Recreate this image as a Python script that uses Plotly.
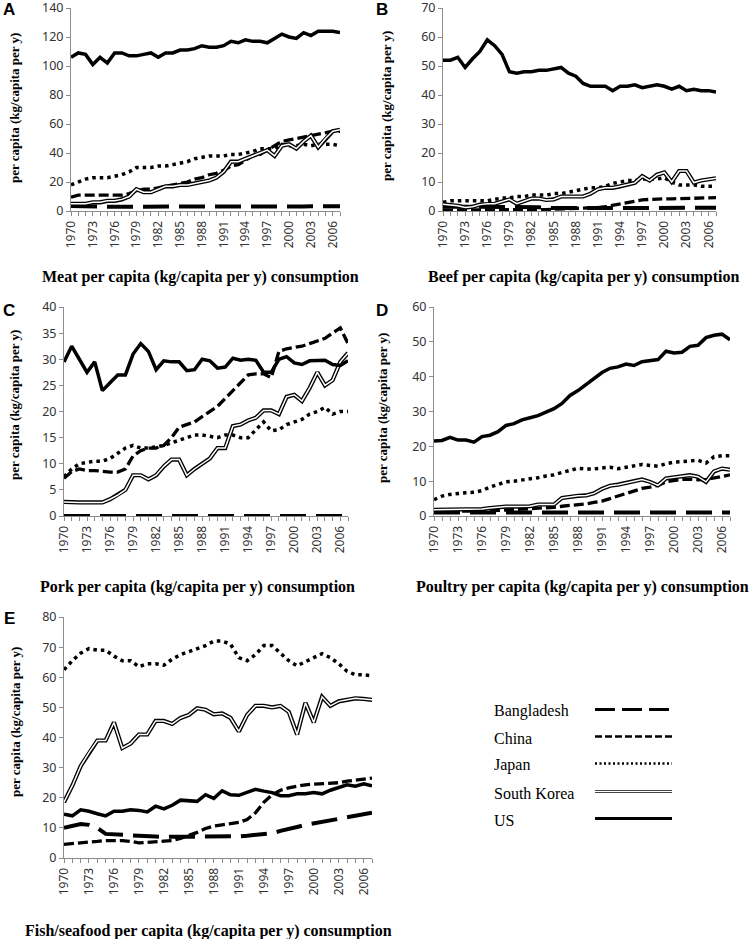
import plotly.graph_objects as go

years = list(range(1970, 2008))
tick_years = list(range(1970, 2007, 3))

# ---------------- Meat ----------------
meat_bangladesh = [3.5, 3.3, 3.2, 3.1, 3.0, 3.0, 3.0, 3.0, 3.1, 2.8, 2.6, 2.5, 2.5, 2.5, 2.5, 2.6, 2.6, 2.6, 2.6, 2.6, 2.6,
                   2.6, 2.7, 2.7, 2.7, 2.8, 2.8, 2.9, 3.0, 3.0, 3.0, 3.1, 3.1, 3.2, 3.2, 3.3, 3.3, 3.3]
meat_china = [9.5, 11, 11, 11, 11, 11, 11, 11, 12, 14, 15, 15, 16, 17, 18, 19, 20, 22, 23, 25, 26,
              28, 31, 32, 35, 38, 39, 42, 45, 48, 49, 50, 51, 52, 53, 54, 55, 55]
meat_japan = [18, 20, 22, 23, 23, 23, 24, 25, 27, 30, 30, 30, 31, 31, 32, 33, 34, 36, 37, 38, 38,
              38, 39, 39, 40, 41, 43, 43, 43, 46, 45, 45, 46, 45, 46, 46, 46, 45]
meat_korea = [5, 5, 5, 6, 6, 7, 7, 8, 10, 15, 13, 13, 15, 17, 17, 18, 18, 19, 20, 21, 23,
              27, 34, 34, 36, 38, 40, 42, 38, 45, 46, 43, 48, 52, 44, 50, 55, 56]
meat_us = [106, 109, 108, 101, 106, 102, 109, 109, 107, 107, 108, 109, 106, 109, 109, 111, 111, 112, 114, 113, 113,
           114, 117, 116, 118, 117, 117, 116, 119, 122, 120, 119, 123, 121, 124, 124, 124, 123]

# ---------------- Beef ----------------
beef_bangladesh = [1.5, 1.5, 1.5, 1.5, 1.5, 1.5, 1.5, 1.5, 1.5, 1.4, 1.4, 1.4, 1.4, 1.3, 1.0, 1.0, 1.0, 1.0, 1.0, 1.0, 1.0,
                   1.1, 1.1, 1.1, 1.1, 1.1, 1.1, 1.1, 1.1, 1.1, 1.1, 1.1, 1.1, 1.1, 1.1, 1.1, 1.1, 1.1]
beef_china = [0.3, 0.3, 0.3, 0.3, 0.3, 0.3, 0.3, 0.3, 0.3, 0.3, 0.3, 0.4, 0.4, 0.5, 0.5, 0.6, 0.7, 0.8, 0.9, 1.0, 1.0,
              1.2, 1.5, 2.0, 2.5, 3.0, 3.5, 3.8, 4.0, 4.2, 4.2, 4.2, 4.3, 4.4, 4.5, 4.5, 4.6, 4.6]
beef_japan = [3.0, 3.5, 3.5, 3.5, 3.5, 3.5, 3.5, 4.0, 4.5, 4.5, 5.0, 5.0, 5.5, 5.5, 5.5, 6.0, 6.0, 6.5, 7.0, 7.5, 8.0,
              8.0, 8.5, 9.5, 10.0, 10.5, 10.5, 11.0, 11.0, 11.0, 11.5, 10.0, 9.0, 9.0, 9.0, 8.5, 8.5, 8.5]
beef_korea = [2.3, 2.1, 1.8, 1.2, 1.5, 2.2, 2.5, 2.5, 3.3, 4.0, 2.5, 3.3, 4.3, 4.3, 3.8, 4.0, 5.0, 5.0, 5.0, 5.0, 6.0,
              7.5, 8.0, 8.0, 8.5, 9.0, 9.7, 12.0, 10.5, 12.5, 13.3, 10.0, 13.8, 13.8, 9.8, 10.5, 11.0, 11.3]
beef_us = [52, 52, 53, 49.5, 52.5, 55, 59, 57, 54, 48, 47.5, 48, 48, 48.5, 48.5, 49, 49.5, 47.5, 46.5, 44, 43,
           43, 43, 41.5, 43, 43, 43.5, 42.5, 43, 43.5, 43, 42, 43, 41.5, 42, 41.5, 41.5, 41]

# ---------------- Pork ----------------
pork_bangladesh = [0.0] * 38
pork_china = [7.2, 8.5, 9.0, 8.7, 8.7, 8.5, 8.4, 8.4, 9.0, 11.5, 12.5, 13.0, 13.0, 13.5, 15.0, 17.0, 17.5, 18.0, 19.0, 20.0, 21.0,
              22.5, 24.0, 25.5, 27.0, 27.2, 27.2, 26.5, 31.5, 32.0, 32.3, 32.5, 33.0, 33.5, 34.0, 35.0, 36.0, 33.0]
pork_japan = [7.5, 9.0, 10.0, 10.3, 10.5, 10.5, 11.0, 12.0, 13.0, 13.5, 13.0, 13.0, 13.2, 13.5, 14.0, 14.5, 15.0, 15.5, 15.5, 15.3, 15.0,
              15.5, 15.5, 15.0, 15.0, 16.5, 18.0, 16.3, 16.5, 17.5, 18.0, 18.5, 19.5, 20.0, 20.8, 19.5, 20.0, 20.0]
pork_korea = [2.7, 2.6, 2.6, 2.6, 2.6, 2.6, 3.2, 4.0, 5.0, 7.8, 7.8, 7.0, 7.8, 9.5, 10.8, 10.8, 7.8, 9.0, 10.0, 11.0, 13.0,
              13.0, 17.2, 17.5, 18.3, 18.8, 20.2, 20.2, 19.5, 22.8, 23.2, 22.0, 24.5, 27.5, 25.0, 26.0, 29.5, 31.2]
pork_us = [29.5, 32.5, 30.0, 27.5, 29.5, 24.0, 25.5, 27.0, 27.0, 31.0, 33.0, 31.5, 28.0, 29.7, 29.5, 29.5, 27.8, 28.0, 30.0, 29.7, 28.3,
           28.5, 30.2, 29.8, 30.0, 29.8, 27.5, 27.5, 30.0, 30.5, 29.3, 29.0, 29.7, 29.8, 29.8, 29.0, 28.8, 29.7]

# ---------------- Poultry ----------------
poultry_bangladesh = [1.0, 1.0, 1.0, 1.0, 1.0, 0.9, 0.9, 0.9, 0.9, 0.8, 0.8, 0.8, 0.8, 0.8, 0.8, 0.8, 0.8, 0.8, 0.8, 0.8, 0.8,
                      0.8, 0.8, 0.8, 0.9, 0.9, 0.9, 0.9, 0.9, 0.9, 0.9, 0.9, 0.9, 1.0, 1.0, 1.0, 1.0, 1.0]
poultry_china = [1.3, 1.3, 1.3, 1.3, 1.4, 1.4, 1.4, 1.5, 1.6, 1.7, 1.8, 1.9, 2.0, 2.2, 2.3, 2.5, 2.8, 3.0, 3.3, 3.5, 3.9,
                 4.3, 5.0, 5.7, 6.4, 7.2, 7.9, 8.3, 8.8, 9.8, 10.2, 10.5, 10.6, 10.4, 10.5, 11.0, 11.4, 11.8]
poultry_japan = [4.7, 5.7, 6.2, 6.5, 6.7, 6.8, 7.3, 8.3, 9.0, 9.8, 10.0, 10.3, 10.7, 11.0, 11.5, 11.8, 12.5, 13.2, 13.7, 13.5, 13.5,
                 13.8, 14.0, 13.6, 14.0, 14.5, 14.8, 14.5, 14.3, 15.0, 15.5, 15.6, 15.9, 16.0, 15.2, 17.0, 17.3, 17.3]
poultry_korea = [1.8, 1.8, 1.8, 1.8, 1.8, 1.8, 2.0, 2.3, 2.6, 2.7, 2.7, 2.7, 2.8, 3.3, 3.3, 3.3, 5.2, 5.6, 5.8, 5.9, 6.5,
                 7.8, 8.7, 9.0, 9.5, 9.9, 10.5, 9.8, 8.8, 10.8, 11.0, 11.4, 11.7, 11.3, 9.8, 12.8, 13.6, 13.3]
poultry_us = [21.5, 21.7, 22.6, 21.8, 21.8, 21.2, 22.8, 23.2, 24.2, 26.0, 26.5, 27.6, 28.2, 28.8, 29.8, 30.8, 32.3, 34.6, 36.0, 37.8, 39.6,
              41.2, 42.4, 42.8, 43.6, 43.2, 44.3, 44.6, 44.9, 47.3, 46.8, 47.0, 48.7, 49.0, 51.2, 51.9, 52.2, 50.6]

# ---------------- Fish/seafood ----------------
fish_bangladesh = [10.0, 10.5, 11.3, 11.0, 10.0, 8.0, 7.8, 7.7, 7.5, 7.3, 7.2, 7.1, 7.0, 7.0, 7.2, 7.2, 7.2, 7.2, 7.2, 7.2, 7.0,
                   7.2, 7.4, 7.7, 7.9, 8.2, 9.0, 9.8, 10.3, 11.0, 11.5, 12.0, 12.5, 13.0, 13.5, 14.0, 14.5, 15.0]
fish_china = [4.5, 4.8, 5.2, 5.3, 5.5, 5.8, 5.8, 5.8, 5.5, 5.0, 5.2, 5.5, 5.6, 5.8, 6.5, 7.5, 8.5, 9.8, 10.6, 11.0, 11.5,
              11.8, 12.8, 15.0, 18.5, 21.0, 22.5, 23.3, 23.8, 24.3, 24.5, 24.7, 24.8, 25.0, 25.5, 25.8, 26.2, 26.5]
fish_japan = [62.5, 65.5, 68.0, 69.5, 69.0, 69.0, 67.0, 65.5, 65.5, 63.5, 64.5, 64.5, 64.0, 66.0, 67.5, 68.5, 69.5, 70.5, 72.0, 72.0, 71.0,
              66.5, 65.5, 67.5, 70.5, 70.5, 68.0, 65.5, 63.8, 65.0, 66.5, 67.8, 66.5, 64.5, 62.0, 60.8, 60.8, 60.5]
fish_korea = [18.5, 24.0, 30.5, 35.0, 39.0, 39.0, 45.0, 36.5, 38.0, 41.0, 41.0, 45.5, 45.5, 44.5, 46.5, 47.5, 49.7, 49.2, 47.7, 48.0, 46.5,
              42.0, 47.5, 50.5, 50.5, 50.0, 50.5, 48.5, 41.0, 51.5, 45.0, 53.5, 50.5, 52.0, 52.5, 53.0, 52.8, 52.5]
fish_us = [14.5, 14.0, 16.0, 15.5, 14.7, 14.0, 15.5, 15.5, 16.0, 15.8, 15.3, 17.2, 16.3, 17.5, 19.2, 19.0, 18.8, 21.0, 19.8, 22.3, 21.0,
           20.8, 21.8, 22.8, 22.2, 21.7, 20.7, 20.7, 21.3, 21.3, 21.7, 21.3, 22.5, 23.5, 24.3, 23.8, 24.6, 24.0]

countries = ["Bangladesh", "China", "Japan", "South Korea", "US"]
panel_titles = ["Meat per capita (kg/capita per y) consumption",
                "Beef per capita (kg/capita per y) consumption",
                "Pork per capita (kg/capita per y) consumption",
                "Poultry per capita (kg/capita per y) consumption",
                "Fish/seafood per capita (kg/capita per y) consumption"]
panel_letters = ["A", "B", "C", "D", "E"]
y_title = "per capita (kg/capita per y)"

panels = [
    [meat_bangladesh, meat_china, meat_japan, meat_korea, meat_us],
    [beef_bangladesh, beef_china, beef_japan, beef_korea, beef_us],
    [pork_bangladesh, pork_china, pork_japan, pork_korea, pork_us],
    [poultry_bangladesh, poultry_china, poultry_japan, poultry_korea, poultry_us],
    [fish_bangladesh, fish_china, fish_japan, fish_korea, fish_us],
]
y_max = [140, 70, 40, 60, 80]
y_dtick = [20, 10, 5, 10, 10]

# ---------------- layout geometry (pixels) ----------------
W, H = 752, 939
# (x_left, x_right, y_top, y_bottom) of each plot area in pixels
boxes = [(71, 340, 8, 211), (443, 716, 8, 211), (64, 348, 307, 516), (434, 730, 307, 516), (64, 372, 617, 858)]
title_pos = [(200, 277), (584, 277), (197, 587), (582, 587), (208, 931)]
ytitle_pos = [(15, 108), (386, 106), (15, 405), (382, 408), (15, 722)]
letter_pos = [(9, 10), (382, 10), (9, 310), (382, 310), (9, 618)]

GREY = "#8c8c8c"
TICKFONT = dict(family="Noto Sans", size=12, color="#333333")

styles = {
    "Bangladesh": dict(color="black", width=4, dash="26px,10px"),
    "China": dict(color="black", width=3.3, dash="10px,4px"),
    "Japan": dict(color="black", width=3.5, dash="3.5px,4px"),
    "US": dict(color="black", width=3.5),
}

fig = go.Figure()
layout = dict(width=W, height=H, margin=dict(l=0, r=0, t=0, b=0, autoexpand=False),
              paper_bgcolor="white", plot_bgcolor="white", showlegend=False, template="none")

annotations = []
for i in range(5):
    xl, xr, yt, yb = boxes[i]
    xs = "x" if i == 0 else f"x{i+1}"
    ys = "y" if i == 0 else f"y{i+1}"
    xkey = "xaxis" if i == 0 else f"xaxis{i+1}"
    ykey = "yaxis" if i == 0 else f"yaxis{i+1}"
    layout[xkey] = dict(domain=[xl / W, xr / W], anchor=ys, range=[1970, 2007], automargin=False,
                        tickmode="array", tickvals=tick_years, ticktext=[str(t) for t in tick_years],
                        tickangle=-90, ticks="outside", ticklen=4, tickcolor=GREY, tickwidth=1,
                        ticklabeloverflow="allow",
                        minor=dict(tickmode="linear", tick0=1970, dtick=1, ticks="outside",
                                   ticklen=4, tickcolor=GREY, tickwidth=1, showgrid=False),
                        showline=True, linecolor=GREY, linewidth=1, showgrid=False, zeroline=False,
                        tickfont=TICKFONT)
    layout[ykey] = dict(domain=[1 - yb / H, 1 - yt / H], anchor=xs, range=[0, y_max[i]], automargin=False,
                        tickmode="linear", tick0=0, dtick=y_dtick[i], ticks="outside", ticklen=4,
                        ticklabeloverflow="allow",
                        tickcolor=GREY, tickwidth=1, showline=True, linecolor=GREY, linewidth=1,
                        showgrid=False, zeroline=False, tickfont=dict(TICKFONT, size=12.5))
    data = panels[i]
    for k in range(5):
        name = countries[k]
        vals = data[k]
        if name == "South Korea":
            fig.add_trace(go.Scatter(x=years, y=vals, mode="lines", xaxis=xs, yaxis=ys, cliponaxis=False,
                                     line=dict(color="black", width=4.2), name=name))
            fig.add_trace(go.Scatter(x=years, y=vals, mode="lines", xaxis=xs, yaxis=ys, cliponaxis=False,
                                     line=dict(color="white", width=1.5), name=name, hoverinfo="skip"))
        else:
            fig.add_trace(go.Scatter(x=years, y=vals, mode="lines", xaxis=xs, yaxis=ys, cliponaxis=False,
                                     line=styles[name], name=name))
    tx, ty = title_pos[i]
    annotations.append(dict(text=panel_titles[i], x=tx / W, y=1 - ty / H, xref="paper", yref="paper",
                            showarrow=False, xanchor="center", yanchor="middle",
                            font=dict(family="Liberation Serif", size=16, color="black", weight="bold")))
    yx, yy = ytitle_pos[i]
    annotations.append(dict(text=y_title, x=yx / W, y=1 - yy / H, xref="paper", yref="paper",
                            showarrow=False, xanchor="center", yanchor="middle", textangle=-90,
                            font=dict(family="Liberation Serif", size=13, color="black", weight="bold")))
    lx, ly = letter_pos[i]
    annotations.append(dict(text=panel_letters[i], x=lx / W, y=1 - ly / H, xref="paper", yref="paper",
                            showarrow=False, xanchor="center", yanchor="middle",
                            font=dict(family="Liberation Sans", size=17, color="black", weight="bold")))

# ---------------- custom legend ----------------
legend_y = [711, 738, 765, 793, 820]
legend_text_x = 492
legend_line_x = (595, 672)
legend_styles = {
    "Bangladesh": dict(color="black", width=3, dash="20px,7px"),
    "China": dict(color="black", width=2.5, dash="7px,3px"),
    "Japan": dict(color="black", width=2.5, dash="2px,2.5px"),
    "US": dict(color="black", width=3),
}
shapes = []
for k, name in enumerate(countries):
    y = 1 - legend_y[k] / H
    annotations.append(dict(text=name, x=legend_text_x / W, y=y, xref="paper", yref="paper",
                            showarrow=False, xanchor="left", yanchor="middle",
                            font=dict(family="Liberation Serif", size=16, color="black")))
    ly = 1 - (legend_y[k] - 1.5) / H
    x0, x1 = legend_line_x[0] / W, legend_line_x[1] / W
    if name == "South Korea":
        shapes.append(dict(type="line", xref="paper", yref="paper", x0=x0, x1=x1,
                           y0=ly, y1=ly, line=dict(color="#444444", width=3)))
        shapes.append(dict(type="line", xref="paper", yref="paper", x0=x0, x1=x1,
                           y0=ly, y1=ly, line=dict(color="white", width=1)))
    else:
        shapes.append(dict(type="line", xref="paper", yref="paper", x0=x0, x1=x1,
                           y0=ly, y1=ly, line=legend_styles[name]))

layout["annotations"] = annotations
layout["shapes"] = shapes
fig.update_layout(**layout)
fig.write_html("out.html", config={"displayModeBar": False},
               post_script="document.body.style.margin='0';document.body.style.padding='0';")
